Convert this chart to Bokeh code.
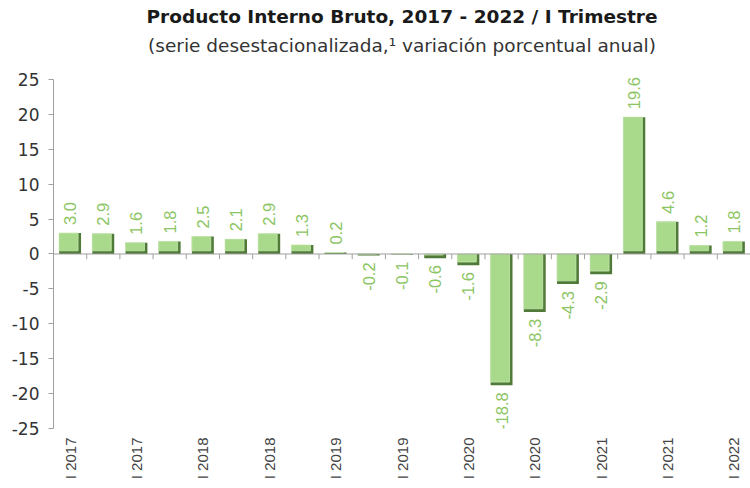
import math
from bokeh.plotting import figure
from bokeh.models import (ColumnDataSource, FixedTicker, Span, Title, Range1d)
from bokeh.core.properties import value
from bokeh.embed import file_html
from bokeh.resources import INLINE

# ---- data ----
values = [3.0, 2.9, 1.6, 1.8, 2.5, 2.1, 2.9, 1.3, 0.2, -0.2, -0.1, -0.6, -1.6,
          -18.8, -8.3, -4.3, -2.9, 19.6, 4.6, 1.2, 1.8]
value_labels = ["3.0", "2.9", "1.6", "1.8", "2.5", "2.1", "2.9", "1.3", "0.2", "-0.2",
                "-0.1", "-0.6", "-1.6", "-18.8", "-8.3", "-4.3", "-2.9", "19.6",
                "4.6", "1.2", "1.8"]
tick_labels = ["I 2017", "I 2017", "I 2018", "I 2018", "I 2019", "I 2019",
               "I 2020", "I 2020", "I 2021", "I 2021", "I 2022"]
y_ticks = [-25, -20, -15, -10, -5, 0, 5, 10, 15, 20, 25]
y_tick_labels = ["-25", "-20", "-15", "-10", "-5", "0", "5", "10", "15", "20", "25"]

TITLE = "Producto Interno Bruto, 2017 - 2022 / I Trimestre"
SUBTITLE = "(serie desestacionalizada,\u00b9 variación porcentual anual)"

LIGHT = "#a9d98b"
DARK = "#4f7a38"
LABEL = "#8cc563"

n = len(values)
xs = list(range(n))
half = 0.33
shade_x = 0.09
shade_y = 0.45

src_dark = ColumnDataSource(dict(
    left=[x - half for x in xs], right=[x + half for x in xs],
    bottom=[min(v, 0) for v in values], top=[max(v, 0) for v in values]))
light_top = [max(v, 0) for v in values]
light_bottom = [min(min(v, 0) + shade_y, max(v, 0)) for v in values]
src_light = ColumnDataSource(dict(
    left=[x - half for x in xs], right=[x + half - shade_x for x in xs],
    bottom=light_bottom, top=light_top))

pos = [i for i, v in enumerate(values) if v >= 0]
neg = [i for i, v in enumerate(values) if v < 0]
src_pos = ColumnDataSource(dict(x=[xs[i] for i in pos], y=[values[i] for i in pos],
                                t=[value_labels[i] for i in pos]))
src_neg = ColumnDataSource(dict(x=[xs[i] for i in neg], y=[values[i] for i in neg],
                                t=[value_labels[i] for i in neg]))

p = figure(width=750, height=488, output_backend="svg", toolbar_location=None,
           x_range=Range1d(-0.5, n - 0.5), y_range=Range1d(-25, 27),
           min_border_left=53, min_border_right=0, min_border_top=65,
           min_border_bottom=60)
p.outline_line_color = None
p.grid.visible = False
p.background_fill_color = "white"
p.border_fill_color = "white"

p.add_layout(Title(text=SUBTITLE, align="center", text_font="DejaVu Sans",
                   text_font_size="18.5px", text_font_style="normal",
                   text_color="#333333", standoff=20), "above")
p.add_layout(Title(text=TITLE, align="center", text_font="DejaVu Sans",
                   text_font_size="18.5px", text_font_style="bold",
                   text_color="#1a1a1a", standoff=-9), "above")

# bars with bevel
p.quad(left="left", right="right", bottom="bottom", top="top", source=src_dark,
       fill_color=DARK, line_color=None)
p.quad(left="left", right="right", bottom="bottom", top="top", source=src_light,
       fill_color=LIGHT, line_color="#c6eab0", line_width=0.8)

# zero line with category tick marks
p.add_layout(Span(location=0, dimension="width", line_color="#a0a0a0", line_width=1))
bx = [i - 0.5 for i in range(n + 1)]
p.segment(x0=bx, x1=bx, y0=[0] * len(bx), y1=[-0.75] * len(bx),
          line_color="#a0a0a0", line_width=1)

# value labels
p.text(x="x", y="y", text="t", source=src_pos, angle=math.pi / 2,
       text_align="left", text_baseline="middle", y_offset=-8,
       text_font_size="16.5px", text_color=LABEL, text_font=value("Liberation Sans"))
p.text(x="x", y="y", text="t", source=src_neg, angle=math.pi / 2,
       text_align="right", text_baseline="middle", y_offset=7,
       text_font_size="16.5px", text_color=LABEL, text_font=value("Liberation Sans"))

# y axis
ya = p.yaxis[0]
ya.ticker = FixedTicker(ticks=y_ticks)
ya.bounds = (y_ticks[0], y_ticks[-1])
ya.major_label_overrides = dict(zip(y_ticks, y_tick_labels))
ya.axis_line_color = "#a0a0a0"
ya.major_tick_line_color = "#a0a0a0"
ya.major_tick_in = 0
ya.major_tick_out = 5
ya.minor_tick_line_color = None
ya.major_label_text_font = "DejaVu Sans"
ya.major_label_text_font_size = "17px"
ya.major_label_text_color = "#333333"
ya.major_label_standoff = 9

# x axis (labels only)
xa = p.xaxis[0]
xa.ticker = FixedTicker(ticks=[xs[i] for i in range(0, n, 2)])
xa.major_label_overrides = {xs[i]: tick_labels[k] for k, i in enumerate(range(0, n, 2))}
xa.axis_line_color = None
xa.major_tick_line_color = None
xa.major_tick_in = 0
xa.major_tick_out = 0
xa.minor_tick_line_color = None
xa.major_label_orientation = math.pi / 2
xa.major_label_text_font = "Liberation Sans"
xa.major_label_text_font_size = "15px"
xa.major_label_text_color = "#444444"
xa.major_label_standoff = 9

open("out.html", "w").write(file_html(p, INLINE))
